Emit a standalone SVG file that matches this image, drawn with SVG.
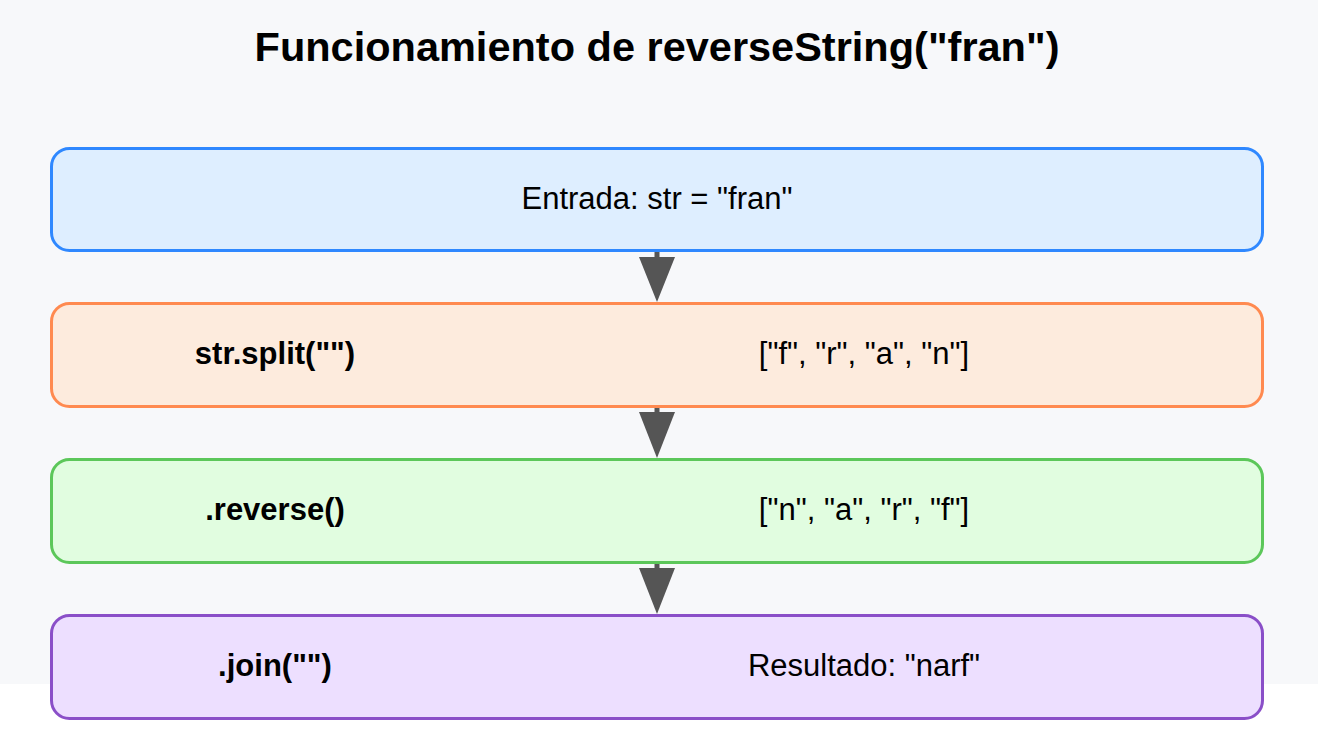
<svg xmlns="http://www.w3.org/2000/svg" width="1318" height="752" viewBox="0 0 1318 752">
<style>
.t{font-family:"Liberation Sans",Arial,Helvetica,sans-serif;fill:#000;text-anchor:middle}
.title{font-size:41.5px;font-weight:bold}
.body{font-size:31px}
.bold{font-size:31px;font-weight:bold}
.box{stroke-width:3}
.stub{stroke:#555;stroke-width:5}
.head{fill:#555}
</style>
<rect x="0" y="0" width="1318" height="752" fill="#ffffff"/>
<rect x="0" y="0" width="1318" height="684" fill="#f7f8fa"/>
<text class="t title" x="657" y="61">Funcionamiento de reverseString("fran")</text>
<g id="connectors">
<line class="stub" x1="657" y1="251" x2="657" y2="258"/>
<polygon class="head" points="639,257 675,257 657,302"/>
<line class="stub" x1="657" y1="406" x2="657" y2="413"/>
<polygon class="head" points="639,412 675,412 657,458"/>
<line class="stub" x1="657" y1="562" x2="657" y2="569"/>
<polygon class="head" points="639,568 675,568 657,614"/>
</g>
<g id="node-entrada">
<rect class="box" x="51.5" y="148.5" width="1211" height="102" rx="18" fill="#deeeff" stroke="#2f88ff"/>
<text class="t body" x="657" y="209">Entrada: str = "fran"</text>
</g>
<g id="node-split">
<rect class="box" x="51.5" y="303.5" width="1211" height="103" rx="18" fill="#fdebdd" stroke="#ff8a50"/>
<text class="t bold" x="275" y="364">str.split("")</text>
<text class="t body" x="864" y="364">["f", "r", "a", "n"]</text>
</g>
<g id="node-reverse">
<rect class="box" x="51.5" y="459.5" width="1211" height="103" rx="18" fill="#e1fde0" stroke="#5cc75a"/>
<text class="t bold" x="275" y="520">.reverse()</text>
<text class="t body" x="864" y="520">["n", "a", "r", "f"]</text>
</g>
<g id="node-join">
<rect class="box" x="51.5" y="615.5" width="1211" height="103" rx="18" fill="#eddfff" stroke="#8a4fc8"/>
<text class="t bold" x="275" y="676">.join("")</text>
<text class="t body" x="864" y="676">Resultado: "narf"</text>
</g>
</svg>
